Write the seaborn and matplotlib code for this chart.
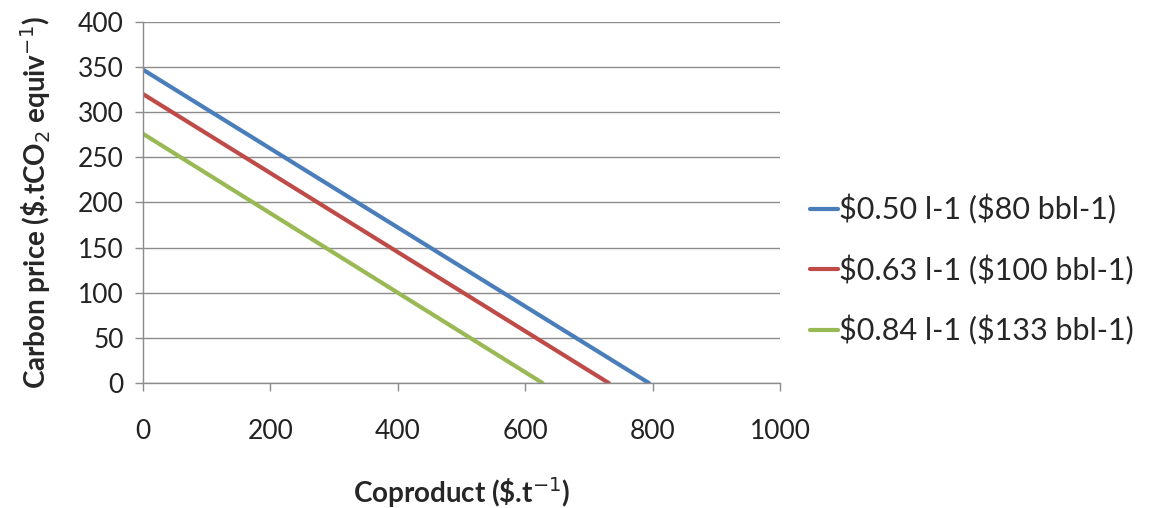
import numpy as np
import pandas as pd
import seaborn as sns
import matplotlib.pyplot as plt

# Values: carbon price vs coproduct value for three oil prices
series_labels = ['$0.50 l-1 ($80 bbl-1)', '$0.63 l-1 ($100 bbl-1)', '$0.84 l-1 ($133 bbl-1)']
coproduct_start = [0, 0, 0]
coproduct_end = [794, 731, 627]
carbon_start = [347, 320, 276]
carbon_end = [0, 0, 0]
line_colors = ['#4a7ebb', '#be4b48', '#98b954']

rows = []
for lab, x0, x1, y0, y1 in zip(series_labels, coproduct_start, coproduct_end, carbon_start, carbon_end):
    rows.append({'series': lab, 'coproduct': x0, 'carbon': y0})
    rows.append({'series': lab, 'coproduct': x1, 'carbon': y1})
df = pd.DataFrame(rows)

sns.set_style('white')
plt.rcParams['font.family'] = ['Lato', 'DejaVu Sans']

fig = plt.figure(figsize=(11.49, 5.08), dpi=100)
ax = fig.add_axes([0.1245, 0.246, 0.5545, 0.711])

sns.lineplot(data=df, x='coproduct', y='carbon', hue='series', palette=line_colors,
             linewidth=3, ax=ax, estimator=None, sort=False)

ax.set_xlim(0, 1000)
ax.set_ylim(0, 400)
ax.set_xticks(np.arange(0, 1001, 200))
ax.set_yticks(np.arange(0, 401, 50))
ax.yaxis.grid(True, color='#8c8c8c', linewidth=1)
ax.xaxis.grid(False)
for side in ['top', 'right']:
    ax.spines[side].set_visible(False)
for side in ['left', 'bottom']:
    ax.spines[side].set_color('#8c8c8c')
    ax.spines[side].set_linewidth(1)
ax.tick_params(axis='both', which='both', length=6, width=1, color='#8c8c8c',
               direction='out', labelsize=19, labelcolor='#222222',
               bottom=True, left=True)
ax.tick_params(axis='x', pad=20)
ax.tick_params(axis='y', pad=8)
ax.set_axisbelow(True)

ax.set_xlabel(r'Coproduct (\$.t$^{-1}$)', fontsize=20, fontweight='bold', labelpad=22)
ax.set_ylabel(r'Carbon price (\$.tCO$_2$ equiv$^{-1}$)', fontsize=20, fontweight='bold', labelpad=18)

handles, labels = ax.get_legend_handles_labels()
ax.legend(handles, [l.replace('$', r'\$') for l in labels],
          loc='center left', bbox_to_anchor=(1.047, 0.313), frameon=False, fontsize=22,
          handlelength=0.9, handletextpad=0.05, labelspacing=1.0,
          borderpad=0, borderaxespad=0)

plt.savefig('out.png', dpi=100)
